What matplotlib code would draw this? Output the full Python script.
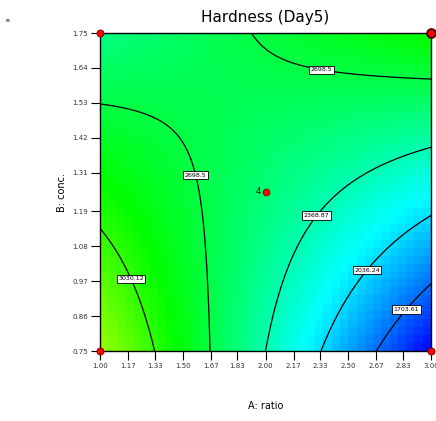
import numpy as np
import matplotlib
matplotlib.use("Agg")
import matplotlib.pyplot as plt
from matplotlib.colors import LinearSegmentedColormap

# fitted response model (coded units, A,B in [-1, 1])
coef_names = ["Intercept", "A", "B", "AB"]
coef_values = [2544.0, -393.0, 175.0, 600.0]

a_range = [1.0, 3.0]      # A: ratio
b_range = [0.75, 1.75]    # B: conc.
levels = [1703.61, 2036.24, 2368.87, 2701.50, 3034.13]
level_labels = ["1703.61", "2036.24", "2368.87", "2698.5", "3030.12"]

x_ticks = [1.00, 1.17, 1.33, 1.50, 1.67, 1.83, 2.00, 2.17, 2.33, 2.50, 2.67, 2.83, 3.00]
y_ticks = [0.75, 0.86, 0.97, 1.08, 1.19, 1.31, 1.42, 1.53, 1.64, 1.75]

design_x = [1.0, 1.0, 3.0, 3.0, 2.0]
design_y = [0.75, 1.75, 0.75, 1.75, 1.25]
center_reps = "4"

c0, cA, cB, cAB = coef_values


def hardness(x, y):
    A = (x - 2.0) / 1.0
    B = (y - 1.25) / 0.5
    return c0 + cA * A + cB * B + cAB * A * B


cmap = LinearSegmentedColormap.from_list(
    "de", [(0, 0, 1), (0, 1, 1), (0, 1, 0), (1, 1, 0), (1, 0, 0)])

fig = plt.figure(figsize=(4.36, 4.21), dpi=100)
ax = fig.add_axes([100 / 436, 70 / 421, 331 / 436, 318 / 421])

# blocky colour fill
ncell = 40
xe = np.linspace(*a_range, ncell + 1)
ye = np.linspace(*b_range, ncell + 1)
xc = (xe[:-1] + xe[1:]) / 2
yc = (ye[:-1] + ye[1:]) / 2
Xc, Yc = np.meshgrid(xc, yc)
ax.pcolormesh(xe, ye, hardness(Xc, Yc), cmap=cmap, vmin=1376, vmax=4420,
              shading="flat", rasterized=True)

# contour lines
xs = np.linspace(*a_range, 300)
ys = np.linspace(*b_range, 300)
X, Y = np.meshgrid(xs, ys)
cs = ax.contour(X, Y, hardness(X, Y), levels=levels, colors="black", linewidths=0.9)
fmt = dict(zip(cs.levels, level_labels))
lbls = ax.clabel(cs, fmt=fmt, fontsize=4.5, inline=False,
                 manual=[(2.34, 1.64), (1.63, 1.31), (1.20, 0.98),
                         (2.30, 1.18), (2.60, 1.01), (2.84, 0.885)])
for t in lbls:
    t.set_bbox(dict(boxstyle="square,pad=0.25", fc="white", ec="black", lw=0.6))
    t.set_rotation(0)

# design points
ax.scatter(design_x[:3], design_y[:3], s=26, c="red", edgecolors="#7a0000",
           linewidths=0.6, zorder=5, clip_on=False)
ax.scatter([design_x[3]], [design_y[3]], s=40, facecolors="red",
           edgecolors="#4a0000", linewidths=1.4, zorder=6, clip_on=False)
ax.scatter([design_x[4]], [design_y[4]], s=24, c="red", edgecolors="#7a0000",
           linewidths=0.6, zorder=5)
ax.text(design_x[4] - 0.025, design_y[4], center_reps, fontsize=6, ha="right",
        va="center", color="black")

ax.set_xlim(*a_range)
ax.set_ylim(*b_range)
ax.set_xticks(x_ticks)
ax.set_xticklabels([f"{v:.2f}" for v in x_ticks])
ax.set_yticks(y_ticks)
ax.set_yticklabels([f"{v:.2f}" for v in y_ticks])
ax.tick_params(direction="out", length=6.5, width=0.8, labelsize=5,
               labelcolor="#333333", pad=2)
for s in ax.spines.values():
    s.set_linewidth(1.0)

ax.set_title("Hardness (Day5)", fontsize=11, pad=8)
ax.set_xlabel("A: ratio", fontsize=7, labelpad=23)
ax.set_ylabel("B: conc.", fontsize=7, labelpad=4)
fig.text(8 / 436, 1 - 21 / 421, "e", fontsize=4.5, ha="center", va="center")

plt.savefig("out.png", dpi=100)
